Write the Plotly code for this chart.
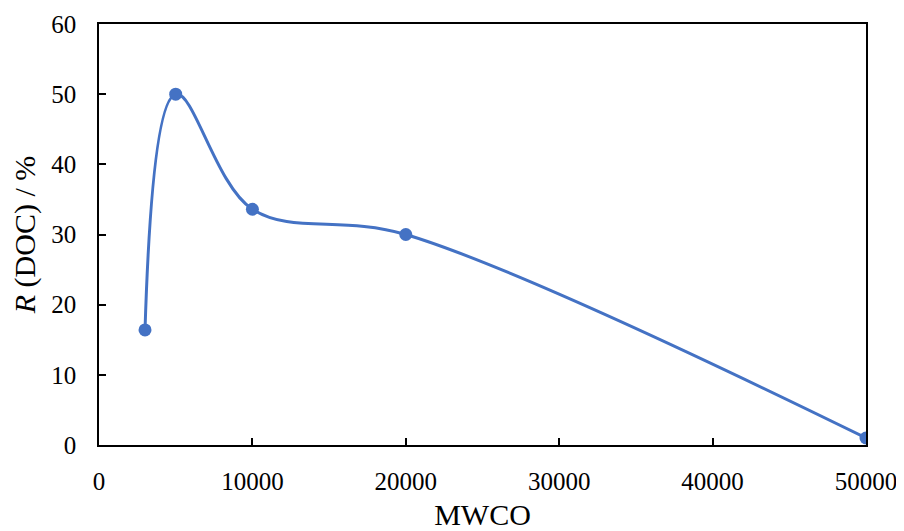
import plotly.graph_objects as go

mwco = [3000, 5000, 10000, 20000, 50000]
r_doc = [16.4, 50.0, 33.6, 30.0, 1.0]
x_ticks = [0, 10000, 20000, 30000, 40000, 50000]
y_ticks = [0, 10, 20, 30, 40, 50, 60]

fig = go.Figure()
fig.add_trace(go.Scatter(
    x=mwco, y=r_doc, mode="lines+markers",
    line=dict(color="#4472C4", width=3, shape="spline", smoothing=1.0),
    marker=dict(color="#4472C4", size=13),
    showlegend=False, cliponaxis=True,
))

axis_common = dict(
    showgrid=False, zeroline=False, showline=True, linecolor="black", linewidth=1.5,
    mirror=True, ticks="inside", ticklen=7, tickwidth=1.5, tickcolor="black",
    automargin=False,
    tickfont=dict(family="Liberation Serif", size=25, color="black"),
)
fig.update_xaxes(range=[0, 50000], tickvals=x_ticks, ticktext=[str(v) for v in x_ticks],
                 ticklabelstandoff=13,
                 title=dict(text="MWCO", font=dict(family="Liberation Serif", size=30, color="black"), standoff=14),
                 **axis_common)
fig.update_yaxes(range=[0, 60], tickvals=y_ticks, ticklabelstandoff=16,
                 title=dict(text="<i>R</i> (DOC) / %", font=dict(family="Liberation Serif", size=30, color="black"), standoff=12),
                 **axis_common)
fig.update_layout(
    width=896, height=523, margin=dict(l=91, r=38, t=16, b=86),
    plot_bgcolor="white", paper_bgcolor="white",
)
fig.write_html("out.html")
